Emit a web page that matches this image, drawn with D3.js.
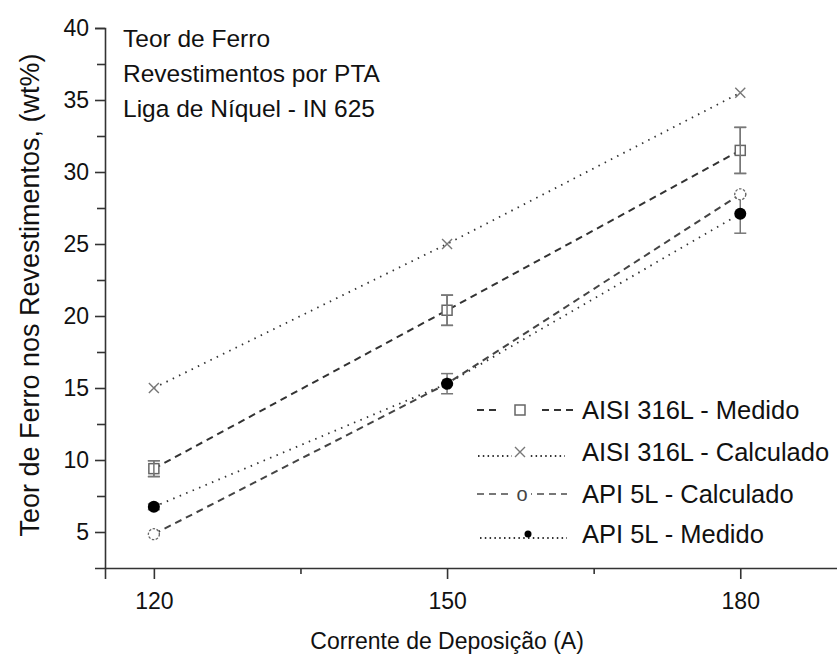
<!DOCTYPE html>
<html>
<head>
<meta charset="utf-8">
<script src="https://cdn.jsdelivr.net/npm/d3@7"></script>
<style>
  body { margin: 0; background: #fff; }
  svg { display: block; font-family: "Liberation Sans", Arial, sans-serif; }
</style>
</head>
<body>
<div id="chart"></div>
<script>
// corrente de deposição (A)
const correntes = [120, 150, 180];
const aisiMedido = [9.4, 20.4, 31.5];
const aisiMedidoErro = [0.55, 1.05, 1.6];
const aisiCalculado = [15.0, 25.0, 35.5];
const apiCalculado = [4.85, 15.3, 28.45];
const apiMedido = [6.75, 15.3, 27.1];
const apiMedidoErro = [0.2, 0.7, 1.35];
const xTicks = [120, 150, 180];
const yTicks = [5, 10, 15, 20, 25, 30, 35, 40];
const titulo = ['Teor de Ferro', 'Revestimentos por PTA', 'Liga de Níquel - IN 625'];
const legendas = ['AISI 316L - Medido', 'AISI 316L - Calculado', 'API 5L - Calculado', 'API 5L - Medido'];

const width = 837, height = 662;
const svg = d3.select('#chart').append('svg')
    .attr('width', width)
    .attr('height', height);

const x = d3.scaleLinear().domain([115, 190]).range([105, 838]);
const y = d3.scaleLinear().domain([2.5, 40]).range([568, 28]);

const axisColor = '#333';

// eixo y
svg.append('g')
    .attr('transform', `translate(${x(115)},0)`)
    .call(d3.axisLeft(y).tickValues(yTicks).tickSize(10).tickPadding(6));
svg.append('g')
    .attr('transform', `translate(${x(115)},0)`)
    .call(d3.axisLeft(y).tickValues(d3.range(7.5, 40, 5)).tickSize(8).tickFormat(''))
    .call(g => g.select('.domain').remove());

// eixo x
svg.append('g')
    .attr('transform', `translate(0,${y(2.5)})`)
    .call(d3.axisBottom(x).tickValues(xTicks).tickSize(11).tickPadding(14));
svg.append('g')
    .attr('transform', `translate(0,${y(2.5)})`)
    .call(d3.axisBottom(x).tickValues([135, 165]).tickSize(6).tickFormat(''))
    .call(g => g.select('.domain').remove());

svg.selectAll('.domain').attr('stroke', axisColor).attr('stroke-width', 1.6);
svg.selectAll('.tick line').attr('stroke', axisColor).attr('stroke-width', 1.6);
svg.selectAll('.tick text').attr('fill', '#111').style('font-size', '23px');

// rótulos dos eixos
svg.append('text')
    .attr('x', x(150))
    .attr('y', 649)
    .attr('text-anchor', 'middle')
    .style('font-size', '23px')
    .attr('fill', '#111')
    .text('Corrente de Deposição (A)');

svg.append('text')
    .attr('transform', `translate(39,295) rotate(-90)`)
    .attr('text-anchor', 'middle')
    .style('font-size', '27px')
    .attr('fill', '#111')
    .text('Teor de Ferro nos Revestimentos, (wt%)');

// título
svg.append('g').selectAll('text')
    .data(titulo)
    .join('text')
    .attr('x', 123)
    .attr('y', (d, i) => 47 + i * 35)
    .style('font-size', '24.5px')
    .attr('fill', '#111')
    .text(d => d);

const series = [
    { values: aisiCalculado, stroke: '#333', dash: '1.5,5.5', width: 1.8 },
    { values: apiMedido, stroke: '#333', dash: '1.5,5.5', width: 1.8 },
    { values: apiCalculado, stroke: '#444', dash: '7,5', width: 2 },
    { values: aisiMedido, stroke: '#333', dash: '7,5', width: 2 }
];

const line = d3.line()
    .x((d, i) => x(correntes[i]))
    .y(d => y(d));

svg.append('g').selectAll('path')
    .data(series)
    .join('path')
    .attr('d', d => line(d.values))
    .attr('fill', 'none')
    .attr('stroke', d => d.stroke)
    .attr('stroke-width', d => d.width)
    .attr('stroke-dasharray', d => d.dash);

// barras de erro
function errorBars(values, errs) {
    const g = svg.append('g').attr('stroke', '#777').attr('stroke-width', 1.5);
    correntes.forEach((c, i) => {
        const cx = x(c), top = y(values[i] + errs[i]), bot = y(values[i] - errs[i]);
        g.append('line').attr('x1', cx).attr('x2', cx).attr('y1', top).attr('y2', bot);
        g.append('line').attr('x1', cx - 6).attr('x2', cx + 6).attr('y1', top).attr('y2', top);
        g.append('line').attr('x1', cx - 6).attr('x2', cx + 6).attr('y1', bot).attr('y2', bot);
    });
}
errorBars(aisiMedido, aisiMedidoErro);
errorBars(apiMedido, apiMedidoErro);

// marcadores
function square(g, cx, cy) {
    g.append('rect').attr('x', cx - 5).attr('y', cy - 5).attr('width', 10).attr('height', 10)
        .attr('fill', '#fff').attr('stroke', '#666').attr('stroke-width', 1.5);
}
function cross(g, cx, cy) {
    g.append('path').attr('d', `M${cx - 5},${cy - 5}L${cx + 5},${cy + 5}M${cx - 5},${cy + 5}L${cx + 5},${cy - 5}`)
        .attr('stroke', '#777').attr('stroke-width', 1.4).attr('fill', 'none');
}
function openCircle(g, cx, cy, r) {
    g.append('circle').attr('cx', cx).attr('cy', cy).attr('r', r || 5.5)
        .attr('fill', '#fff').attr('stroke', '#666').attr('stroke-width', 1.3)
        .attr('stroke-dasharray', '2.5,1.5');
}
function dot(g, cx, cy, r) {
    g.append('circle').attr('cx', cx).attr('cy', cy).attr('r', r || 6).attr('fill', '#000');
}

const marks = svg.append('g');
correntes.forEach((c, i) => {
    square(marks, x(c), y(aisiMedido[i]));
    cross(marks, x(c), y(aisiCalculado[i]));
    openCircle(marks, x(c), y(apiCalculado[i]));
    dot(marks, x(c), y(apiMedido[i]));
});
// barras de erro do quadrado aparecem através do marcador
errorBars(aisiMedido, aisiMedidoErro);

// legenda
const legendY = [410, 452, 494, 534];
const lg = svg.append('g');
legendas.forEach((t, i) => {
    lg.append('text').attr('x', 582).attr('y', legendY[i]).attr('dy', '0.35em')
        .style('font-size', '25.5px').attr('fill', '#111').text(t);
});
lg.append('line').attr('x1', 477).attr('x2', 500).attr('y1', legendY[0]).attr('y2', legendY[0])
    .attr('stroke', '#333').attr('stroke-width', 2).attr('stroke-dasharray', '7,5');
lg.append('line').attr('x1', 542).attr('x2', 574).attr('y1', legendY[0]).attr('y2', legendY[0])
    .attr('stroke', '#333').attr('stroke-width', 2).attr('stroke-dasharray', '7,5');
square(lg, 520, legendY[0]);

lg.append('line').attr('x1', 478).attr('x2', 565).attr('y1', legendY[1] + 4).attr('y2', legendY[1] + 4)
    .attr('stroke', '#333').attr('stroke-width', 1.8).attr('stroke-dasharray', '1.5,3.3');
lg.append('rect').attr('x', 512).attr('y', legendY[1] - 6).attr('width', 16).attr('height', 14).attr('fill', '#fff');
cross(lg, 520, legendY[1]);

lg.append('line').attr('x1', 477).attr('x2', 567).attr('y1', legendY[2]).attr('y2', legendY[2])
    .attr('stroke', '#777').attr('stroke-width', 2).attr('stroke-dasharray', '7,5');
lg.append('rect').attr('x', 513).attr('y', legendY[2] - 7).attr('width', 18).attr('height', 14).attr('fill', '#fff');
lg.append('text').attr('x', 522).attr('y', legendY[2]).attr('dy', '0.35em').attr('text-anchor', 'middle')
    .style('font-size', '20px').attr('fill', '#444').text('o');

lg.append('line').attr('x1', 480).attr('x2', 567).attr('y1', legendY[3] + 4).attr('y2', legendY[3] + 4)
    .attr('stroke', '#333').attr('stroke-width', 1.8).attr('stroke-dasharray', '1.5,3.3');
dot(lg, 528, legendY[3], 3.5);
</script>
</body>
</html>
